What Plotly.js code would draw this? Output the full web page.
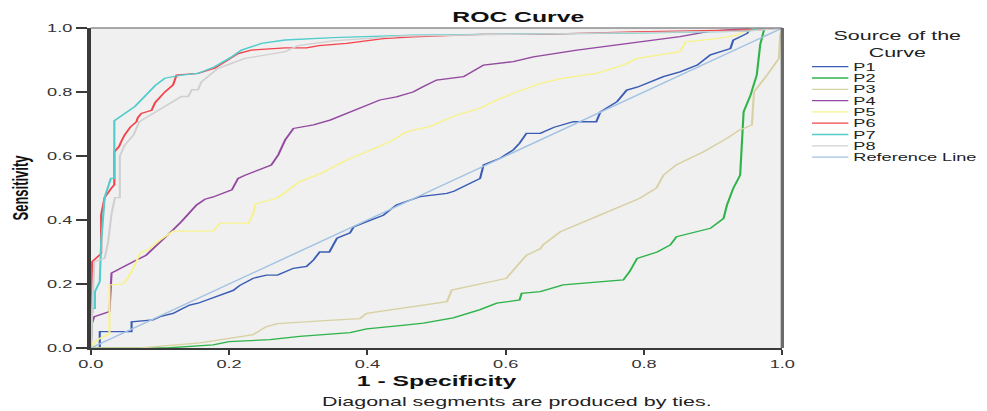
<!DOCTYPE html>
<html>
<head>
<meta charset="utf-8">
<script src="https://cdn.plot.ly/plotly-3.0.1.min.js"></script>
<style>
html,body{margin:0;padding:0;background:#ffffff;overflow:hidden;}
#chart{width:598px;height:411px;transform:scaleX(1.6505);transform-origin:0 0;}
</style>
</head>
<body>
<div id="chart"></div>
<script>
// ---- data ----
const seriesNames = ["P1","P2","P3","P4","P5","P6","P7","P8","Reference Line"];
const seriesColors = ["#3b5db5","#2fb34b","#d8d1a3","#944aa0","#f7f28e","#f2454d","#52cccc","#d0d0d0","#a3c3e3"];
const xTicks = [0, 0.2, 0.4, 0.6, 0.8, 1.0];
const yTicks = [0, 0.2, 0.4, 0.6, 0.8, 1.0];

const p1_x = [0,0.013,0.013,0.059,0.059,0.09,0.1,0.119,0.13,0.143,0.155,0.167,0.185,0.206,0.215,0.235,0.254,0.27,0.293,0.312,0.322,0.331,0.345,0.356,0.375,0.38,0.399,0.423,0.442,0.476,0.515,0.525,0.563,0.568,0.592,0.611,0.62,0.63,0.65,0.67,0.698,0.731,0.737,0.761,0.775,0.79,0.828,0.852,0.877,0.896,0.925,0.929,0.949,0.955,1];
const p1_y = [0,0,0.051,0.051,0.082,0.088,0.098,0.108,0.12,0.134,0.14,0.15,0.165,0.18,0.195,0.218,0.228,0.228,0.249,0.255,0.275,0.3,0.3,0.343,0.36,0.378,0.395,0.415,0.447,0.473,0.483,0.49,0.53,0.572,0.593,0.619,0.64,0.671,0.671,0.69,0.707,0.707,0.738,0.77,0.806,0.815,0.848,0.863,0.884,0.916,0.936,0.962,0.983,1,1];

const p2_x = [0,0.11,0.177,0.2,0.259,0.302,0.375,0.399,0.447,0.481,0.524,0.563,0.587,0.62,0.623,0.65,0.683,0.77,0.779,0.79,0.819,0.838,0.847,0.896,0.915,0.92,0.929,0.939,0.944,0.954,0.963,0.968,0.973,0.975,1];
const p2_y = [0,0,0.01,0.02,0.026,0.036,0.048,0.06,0.07,0.078,0.094,0.12,0.14,0.15,0.171,0.176,0.197,0.2125,0.238,0.28,0.30,0.322,0.348,0.374,0.405,0.447,0.499,0.54,0.738,0.79,0.853,0.948,0.99,1,1];

const p3_x = [0,0.071,0.158,0.235,0.254,0.27,0.35,0.389,0.399,0.447,0.515,0.522,0.601,0.63,0.65,0.654,0.679,0.737,0.794,0.818,0.828,0.847,0.886,0.92,0.937,0.956,0.959,0.978,0.995,0.997,1];
const p3_y = [0,0,0.016,0.042,0.067,0.076,0.087,0.092,0.108,0.124,0.145,0.181,0.218,0.29,0.31,0.322,0.363,0.416,0.468,0.5,0.54,0.573,0.613,0.655,0.68,0.697,0.8,0.853,0.905,0.978,1];

const p4_x = [0,0,0.005,0.027,0.03,0.035,0.052,0.062,0.08,0.09,0.105,0.119,0.131,0.153,0.165,0.177,0.204,0.213,0.223,0.261,0.271,0.281,0.293,0.322,0.346,0.389,0.418,0.442,0.466,0.481,0.5,0.539,0.568,0.611,0.64,0.703,0.78,0.852,0.896,0.96,1];
const p4_y = [0,0.067,0.098,0.114,0.234,0.24,0.26,0.27,0.29,0.31,0.3375,0.369,0.395,0.447,0.465,0.472,0.494,0.53,0.54,0.572,0.603,0.65,0.686,0.697,0.712,0.749,0.775,0.785,0.8,0.817,0.8375,0.848,0.884,0.895,0.91,0.931,0.952,0.973,0.99,1,1];

const p5_x = [0,0.005,0.013,0.027,0.027,0.047,0.054,0.064,0.071,0.085,0.1,0.114,0.119,0.177,0.181,0.187,0.228,0.235,0.238,0.269,0.283,0.302,0.331,0.37,0.399,0.433,0.457,0.49,0.529,0.563,0.587,0.611,0.65,0.683,0.731,0.77,0.79,0.852,0.86,0.905,0.934,0.945,0.96,1];
const p5_y = [0,0.016,0.03,0.045,0.197,0.2,0.22,0.26,0.296,0.31,0.3375,0.358,0.365,0.365,0.375,0.39,0.39,0.42,0.45,0.468,0.489,0.52,0.544,0.5875,0.613,0.645,0.676,0.692,0.728,0.749,0.775,0.796,0.827,0.843,0.858,0.884,0.905,0.926,0.957,0.967,0.978,0.99,1,1];

const p6_x = [0,0.002,0.002,0.008,0.015,0.015,0.02,0.03,0.034,0.034,0.041,0.044,0.049,0.057,0.066,0.068,0.073,0.088,0.093,0.107,0.119,0.124,0.155,0.179,0.199,0.213,0.232,0.281,0.312,0.33,0.37,0.399,0.423,0.466,0.563,0.65,0.785,0.968,1];
const p6_y = [0,0.12,0.27,0.28,0.295,0.416,0.47,0.5,0.51,0.613,0.63,0.645,0.666,0.69,0.707,0.72,0.733,0.743,0.767,0.8,0.822,0.853,0.858,0.874,0.9,0.92,0.931,0.938,0.938,0.945,0.952,0.959,0.967,0.972,0.98,0.98,0.988,0.995,1];

const p7_x = [0,0.002,0.006,0.006,0.013,0.015,0.02,0.027,0.029,0.034,0.034,0.064,0.078,0.093,0.107,0.131,0.155,0.179,0.204,0.218,0.247,0.281,0.35,0.466,0.78,0.95,0.97,1];
const p7_y = [0,0.124,0.124,0.176,0.207,0.33,0.47,0.51,0.53,0.53,0.71,0.755,0.785,0.82,0.843,0.853,0.858,0.879,0.91,0.931,0.952,0.9625,0.97,0.978,0.984,0.99,1,1];

const p8_x = [0,0.002,0.005,0.02,0.025,0.03,0.035,0.042,0.042,0.049,0.062,0.07,0.082,0.102,0.117,0.131,0.141,0.146,0.155,0.16,0.184,0.223,0.281,0.3,0.35,0.45,0.6,0.8,0.95,1];
const p8_y = [0,0.12,0.27,0.28,0.33,0.42,0.47,0.47,0.6,0.634,0.666,0.707,0.723,0.749,0.77,0.786,0.786,0.807,0.807,0.832,0.874,0.905,0.926,0.945,0.96,0.975,0.98,0.985,0.99,1];

const ref_x = [0, 1];
const ref_y = [0, 1];

// ---- build traces ----
const xs = [p1_x,p2_x,p3_x,p4_x,p5_x,p6_x,p7_x,p8_x,ref_x];
const ys = [p1_y,p2_y,p3_y,p4_y,p5_y,p6_y,p7_y,p8_y,ref_y];
const traces = seriesNames.map((n,i)=>({
  type:'scatter', mode:'lines', name:n, x:xs[i], y:ys[i],
  line:{color:seriesColors[i], width:1.3},
  showlegend:false, hoverinfo:'x+y+name'
}));

// ---- hand-drawn compact legend (paper coordinates) ----
const plotL = 55, plotR = 474, plotT = 28, plotB = 348;
const px2paperX = p => (p - plotL) / (plotR - plotL);
const px2paperY = p => (plotB - p) / (plotB - plotT);
const FONT = 'Arial, "Liberation Sans", sans-serif';

const shapes = [
  {type:'line', xref:'paper', yref:'paper', x0:0, x1:1, y0:1, y1:1, line:{color:'#8c8c8c', width:1.5}},
  {type:'line', xref:'paper', yref:'paper', x0:1, x1:1, y0:0, y1:1, line:{color:'#6a6a6a', width:2}}
];
const annotations = [];
seriesNames.forEach((n,i)=>{
  const yy = px2paperY(66.7 + i*11.3);
  shapes.push({type:'line', xref:'paper', yref:'paper', x0:px2paperX(492), x1:px2paperX(514),
               y0:yy, y1:yy, line:{color:seriesColors[i], width:1.3}});
  annotations.push({xref:'paper', yref:'paper', x:px2paperX(515.5), y:yy, xanchor:'left', yanchor:'middle',
                    text:n, showarrow:false, borderpad:0, font:{family:FONT, size:11, color:'#222'}});
});
annotations.push({xref:'paper', yref:'paper', x:px2paperX(543), y:px2paperY(44), xanchor:'center', yanchor:'middle',
                  text:'Source of the<br>Curve', showarrow:false, borderpad:0,
                  font:{family:FONT, size:13, color:'#222'}});
annotations.push({xref:'paper', yref:'paper', x:px2paperX(313), y:px2paperY(401.5), xanchor:'center', yanchor:'middle',
                  text:'Diagonal segments are produced by ties.', showarrow:false, borderpad:0,
                  font:{family:FONT, size:13, color:'#222'}});

const layout = {
  width:598, height:411, autosize:false,
  margin:{l:plotL, r:598-plotR, t:plotT, b:411-plotB},
  paper_bgcolor:'#ffffff', plot_bgcolor:'#f0f0f0',
  font:{family:FONT, color:'#222'},
  showlegend:false,
  title:{text:'<b>ROC Curve</b>', font:{family:FONT, size:15, color:'#111'},
         xref:'paper', x:px2paperX(314), xanchor:'center', yref:'container', y:1-17/411, yanchor:'middle'},
  xaxis:{range:[0,1], tickvals:xTicks, ticktext:xTicks.map(v=>v.toFixed(1)),
         showgrid:false, zeroline:false, showline:true, linecolor:'#3a3a3a', linewidth:2,
         ticks:'outside', ticklen:5, tickwidth:1.3, tickcolor:'#3a3a3a',
         tickfont:{family:FONT, size:11, color:'#333'},
         title:{text:'<b>1 - Specificity</b>', font:{family:FONT, size:15, color:'#111'}, standoff:6}},
  yaxis:{range:[0,1], tickvals:yTicks, ticktext:yTicks.map(v=>v.toFixed(1)),
         showgrid:false, zeroline:false, showline:true, linecolor:'#3a3a3a', linewidth:2,
         ticks:'outside', ticklen:7, tickwidth:1.3, tickcolor:'#3a3a3a',
         tickfont:{family:FONT, size:11, color:'#333'},
         title:{text:'<b>Sensitivity</b>', font:{family:FONT, size:13, color:'#111'}, standoff:8}},
  shapes:shapes, annotations:annotations
};

Plotly.newPlot('chart', traces, layout, {displayModeBar:false, staticPlot:true});
</script>
</body>
</html>
